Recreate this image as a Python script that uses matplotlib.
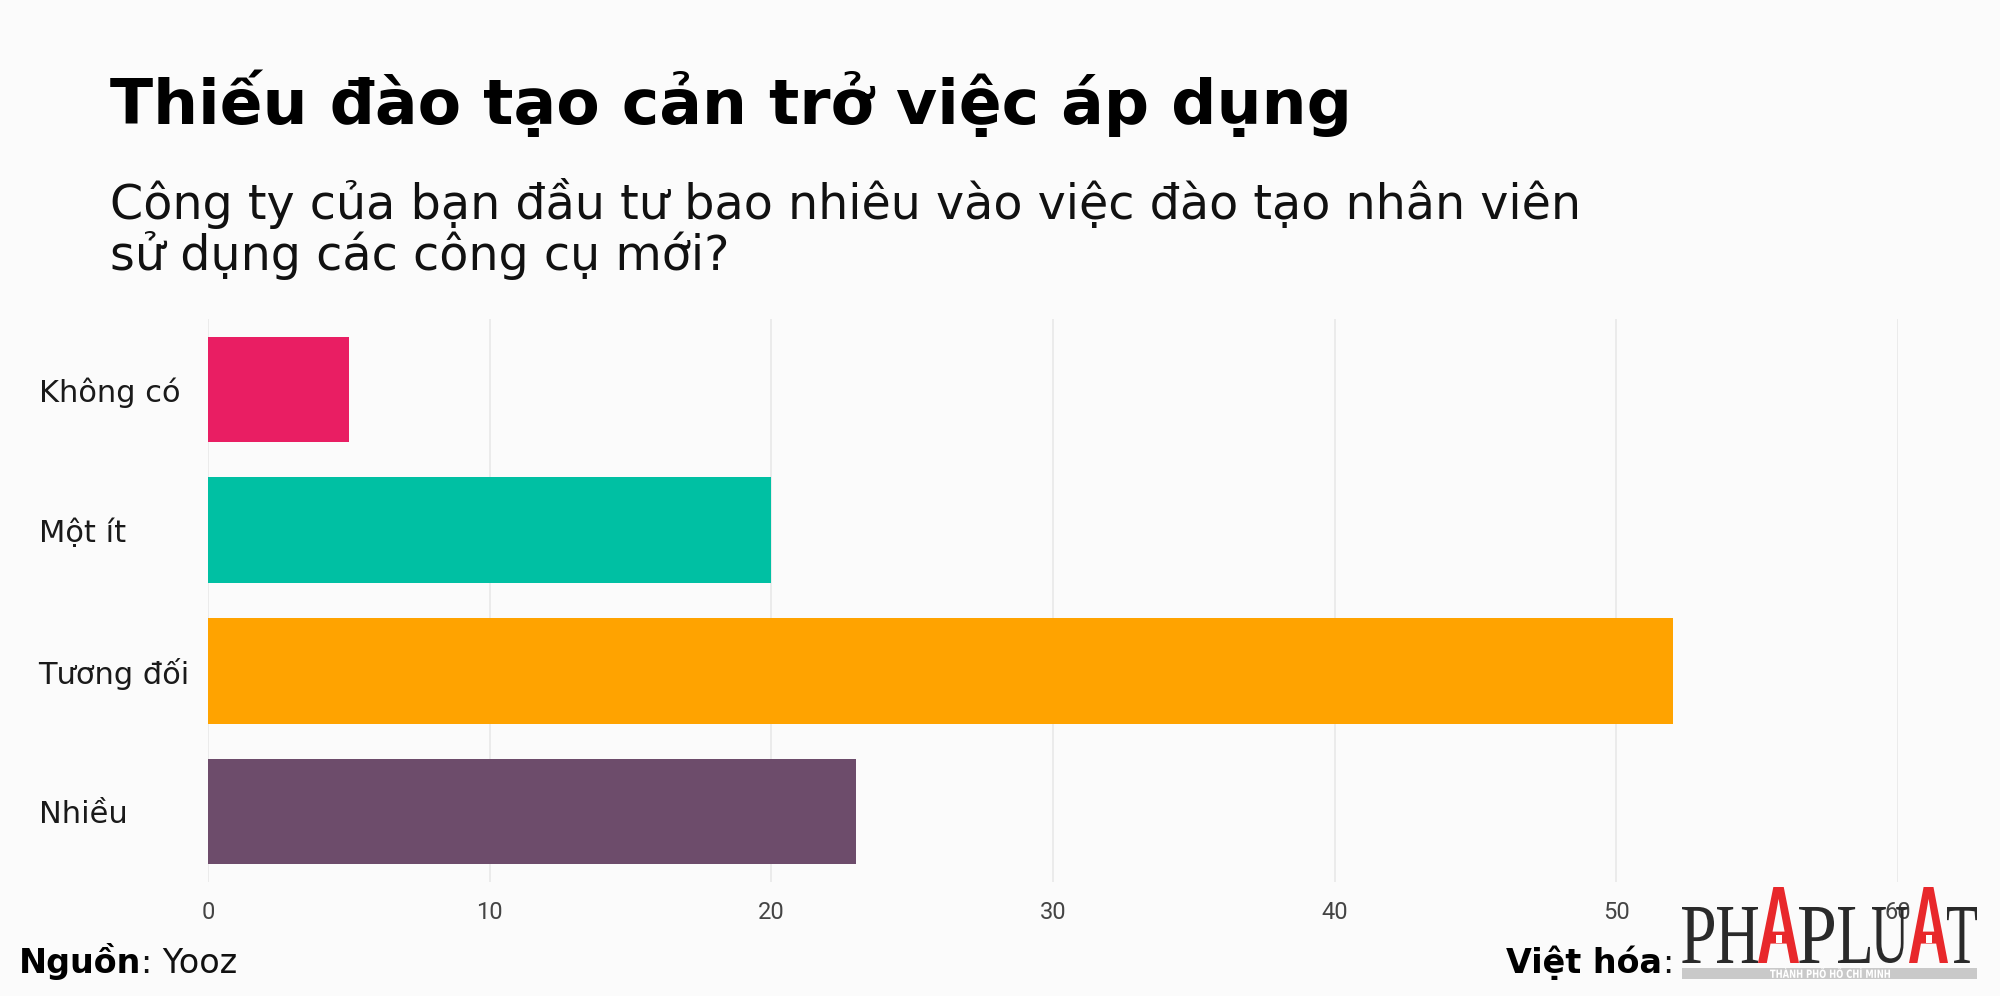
"""Biểu đồ thanh ngang: đầu tư đào tạo nhân viên sử dụng công cụ mới."""

import matplotlib
matplotlib.use("Agg")
import matplotlib.pyplot as plt
from matplotlib.font_manager import FontProperties
from matplotlib.patches import PathPatch, Rectangle
from matplotlib.textpath import TextPath
from matplotlib.transforms import Affine2D


# --- dữ liệu ---------------------------------------------------------------

categories = ["Không có", "Một ít", "Tương đối", "Nhiều"]
values = [5, 20, 52, 23]
bar_colors = ["#E91E63", "#00C0A3", "#FFA300", "#6D4C6B"]
x_ticks = [0, 10, 20, 30, 40, 50, 60]

title = "Thiếu đào tạo cản trở việc áp dụng"
subtitle_lines = ["Công ty của bạn đầu tư bao nhiêu vào việc đào tạo nhân viên",
                  "sử dụng các công cụ mới?"]

W, H = 2000, 996
BG = "#FBFBFB"


def glyph(ax, text, x0, x1, y_top, y_base, color, family, weight="normal"):
    """Vẽ một chữ (TextPath) co giãn vừa khít vào hộp toạ độ pixel."""
    path = TextPath((0, 0), text, size=100, prop=FontProperties(family=family, weight=weight))
    ext = path.get_extents()
    sx = (x1 - x0) / ext.width
    sy = (y_base - y_top) / ext.height
    tr = Affine2D().translate(-ext.x0, -ext.y0).scale(sx, -sy).translate(x0, y_base)
    ax.add_patch(PathPatch(tr.transform_path(path), facecolor=color, edgecolor="none", lw=0))


fig = plt.figure(figsize=(W / 100, H / 100), dpi=100, facecolor=BG)

# --- vùng biểu đồ ----------------------------------------------------------
ax = fig.add_axes([208 / W, 1 - 882 / H, (1898 - 208) / W, (882 - 319) / H])
ax.set_facecolor(BG)
ypos = list(range(len(categories)))
ax.barh(ypos, values, height=0.75, color=bar_colors, zorder=3)
ax.set_xlim(0, 60)
ax.set_ylim(3.5, -0.5)
ax.set_xticks(x_ticks)
ax.set_xticklabels([str(t) for t in x_ticks], family="Roboto", fontsize=17, color="#444444")
ax.set_yticks(ypos)
ax.set_yticklabels(categories, family="DejaVu Sans", fontsize=22, color="#1a1a1a", ha="left")
ax.tick_params(axis="y", length=0, pad=122)
ax.tick_params(axis="x", length=0, pad=14)
ax.grid(axis="x", color="#E8E8E8", linewidth=1.2, zorder=0)
for side in ax.spines.values():
    side.set_visible(False)

# --- tiêu đề ---------------------------------------------------------------
fig.text(110 / W, 1 - 124 / H, title, family="DejaVu Sans", weight="bold",
         fontsize=45.5, color="#000000", va="baseline", ha="left")
fig.text(110 / W, 1 - 219 / H, subtitle_lines[0], family="DejaVu Sans",
         fontsize=34.3, color="#111111", va="baseline", ha="left")
fig.text(110 / W, 1 - 270 / H, subtitle_lines[1], family="DejaVu Sans",
         fontsize=34.3, color="#111111", va="baseline", ha="left")

# --- chân trang ------------------------------------------------------------
renderer = fig.canvas.get_renderer()
foot_y = 1 - 973 / H
t1 = fig.text(19 / W, foot_y, "Nguồn", family="DejaVu Sans", weight="bold",
              fontsize=24, color="#000000", va="baseline")
w1 = t1.get_window_extent(renderer).width
fig.text((19 + w1) / W, foot_y, ": Yooz", family="DejaVu Sans",
         fontsize=24, color="#111111", va="baseline")

t3 = fig.text(1673 / W, foot_y, ":", family="DejaVu Sans", fontsize=24,
              color="#111111", va="baseline", ha="right")
w3 = t3.get_window_extent(renderer).width
fig.text((1673 - w3) / W, foot_y, "Việt hóa", family="DejaVu Sans", weight="bold",
         fontsize=24, color="#000000", va="baseline", ha="right")

# --- logo PHÁP LUẬT (vẽ bằng TextPath trong toạ độ pixel) --------------------
lax = fig.add_axes([0, 0, 1, 1], facecolor="none")
lax.set_xlim(0, W)
lax.set_ylim(H, 0)
lax.axis("off")
dark = "#2A2A2A"
red = "#E8282B"
lax.add_patch(Rectangle((1682, 968), 295, 11, facecolor="#C9C9C9", edgecolor="none"))
for ch, x0, x1 in [("P", 1682, 1714), ("H", 1717, 1758), ("P", 1799, 1834),
                   ("L", 1838, 1870), ("U", 1872, 1908), ("T", 1947, 1977)]:
    glyph(lax, ch, x0, x1, 907, 963, dark, "Liberation Serif")
for x0, x1 in [(1758, 1799), (1909, 1948)]:
    glyph(lax, "A", x0, x1, 887, 963, red, "Liberation Sans", "bold")
    lax.add_patch(Rectangle(((x0 + x1) / 2 - 3, 935), 6, 8, facecolor="white", edgecolor="none"))
glyph(lax, "THÀNH PHỐ HỒ CHÍ MINH", 1770, 1890, 966, 978, "white", "DejaVu Sans", "bold")

fig.savefig("out.png", dpi=100, facecolor=BG)
